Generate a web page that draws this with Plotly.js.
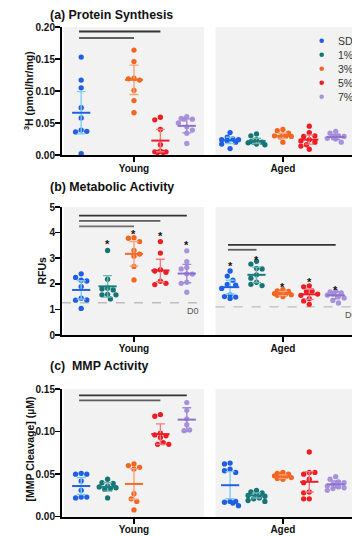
<!DOCTYPE html>
<html>
<head>
<meta charset="utf-8">
<script src="https://cdn.plot.ly/plotly-3.0.1.min.js"></script>
<style>html,body{margin:0;padding:0;background:#fff;}#chart{width:352px;height:536px;}</style>
</head>
<body>
<div id="chart"></div>
<script>
// ---------------- DATA ----------------
const groups = ['SD', '1%', '3%', '5%', '7%'];
const ages = ['Young', 'Aged'];

// (a) Protein Synthesis
const a_young = [
  [0.153, 0.117, 0.105, 0.074, 0.058, 0.039, 0.037, 0.036, 0.002],
  [],
  [0.164, 0.146, 0.120, 0.119, 0.117, 0.101, 0.085, 0.066],
  [0.059, 0.055, 0.040, 0.016, 0.006, 0.005, 0.004, 0.004, 0.005],
  [0.060, 0.057, 0.056, 0.056, 0.050, 0.044, 0.039, 0.034, 0.018]
];
const a_young_mean = [0.066, null, 0.1175, 0.0225, 0.0455];
const a_young_err = [0.033, null, 0.023, 0.0175, 0.011];
const a_aged = [
  [0.035, 0.028, 0.025, 0.024, 0.024, 0.022, 0.020, 0.017, 0.010],
  [0.033, 0.030, 0.024, 0.021, 0.020, 0.020, 0.019, 0.017, 0.016],
  [0.040, 0.038, 0.034, 0.031, 0.030, 0.029, 0.029, 0.028, 0.020],
  [0.045, 0.035, 0.030, 0.029, 0.024, 0.022, 0.020, 0.016, 0.014, 0.009],
  [0.037, 0.034, 0.030, 0.029, 0.029, 0.026, 0.025, 0.020]
];
const a_aged_mean = [0.023, 0.022, 0.030, 0.024, 0.028];
const a_aged_err = [0.005, 0.004, 0.004, 0.007, 0.004];
const a_sig_young = [[0, 3, 0.193], [0, 2, 0.1828]];
const a_sig_aged = [];

// (b) Metabolic Activity
const b_young = [
  [2.39, 2.25, 2.14, 2.11, 1.89, 1.44, 1.37, 1.36, 1.04],
  [3.30, 2.18, 1.83, 1.80, 1.76, 1.59, 1.57, 1.57, 1.41],
  [3.80, 3.78, 3.65, 3.30, 3.16, 3.08, 2.68, 2.15],
  [3.65, 3.20, 2.55, 2.50, 2.45, 2.10, 2.02, 1.97],
  [3.29, 2.87, 2.64, 2.58, 2.39, 2.38, 2.06, 2.02, 1.67]
];
const b_young_mean = [1.76, 1.90, 3.17, 2.52, 2.40];
const b_young_err = [0.36, 0.42, 0.48, 0.44, 0.36];
const b_aged = [
  [2.50, 2.30, 2.14, 1.98, 1.95, 1.82, 1.57, 1.50, 1.48, 1.43],
  [2.88, 2.77, 2.60, 2.58, 2.35, 2.22, 2.06, 1.98, 1.93],
  [1.78, 1.72, 1.70, 1.66, 1.62, 1.60, 1.57, 1.55, 1.50],
  [1.92, 1.88, 1.72, 1.70, 1.60, 1.55, 1.42, 1.33, 1.20],
  [1.72, 1.68, 1.64, 1.60, 1.56, 1.52, 1.45, 1.35, 1.25]
];
const b_aged_mean = [1.87, 2.35, 1.62, 1.59, 1.55];
const b_aged_err = [0.27, 0.30, 0.08, 0.20, 0.14];
const b_star_young = [null, 3.66, 4.05, 3.98, 3.62];
const b_star_aged = [2.81, 3.03, 1.98, 2.18, 1.89];
const b_sig_young = [[0, 4, 4.66], [0, 3, 4.46], [0, 2, 4.24]];
const b_sig_aged = [[0, 4, 3.52], [0, 1, 3.33]];
const b_d0 = [1.26, 1.10];

// (c) MMP Activity
const c_young = [
  [0.051, 0.050, 0.050, 0.042, 0.031, 0.023, 0.023, 0.022],
  [0.044, 0.040, 0.039, 0.036, 0.035, 0.034, 0.033, 0.032, 0.022],
  [0.062, 0.060, 0.058, 0.056, 0.027, 0.021, 0.018, 0.008],
  [0.120, 0.118, 0.098, 0.096, 0.095, 0.093, 0.087, 0.085, 0.085],
  [0.134, 0.125, 0.115, 0.108, 0.102, 0.101]
];
const c_young_mean = [0.036, 0.035, 0.0385, 0.097, 0.114];
const c_young_err = [0.010, 0.005, 0.018, 0.012, 0.014];
const c_aged = [
  [0.063, 0.062, 0.056, 0.054, 0.052, 0.018, 0.018, 0.017, 0.016, 0.013],
  [0.031, 0.029, 0.028, 0.026, 0.025, 0.024, 0.022, 0.021, 0.019, 0.018],
  [0.052, 0.051, 0.050, 0.049, 0.048, 0.047, 0.046, 0.045, 0.044],
  [0.076, 0.052, 0.052, 0.050, 0.044, 0.040, 0.029, 0.028, 0.021, 0.021],
  [0.047, 0.044, 0.041, 0.040, 0.038, 0.036, 0.035, 0.034, 0.033, 0.031]
];
const c_aged_mean = [0.037, 0.025, 0.047, 0.041, 0.038];
const c_aged_err = [0.016, 0.003, 0.002, 0.012, 0.004];
const c_sig_young = [[0, 4, 0.1425], [0, 3, 0.1366]];
const c_sig_aged = [];

// ---------------- STYLE / LAYOUT ----------------
const W = 352, H = 536;
const FONT = 'Liberation Sans, Arial, Helvetica, sans-serif';
const ptColors = ['#1f5ee6', '#157575', '#f4651f', '#ee1d23', '#a891dd'];
const errColors = ['#7ccdf2', '#6fb3b3', '#f7a47c', '#f37b7e', '#a08bd8'];
const meanColors = ['#2063e0', '#1a7d7d', '#f26a28', '#e8202a', '#8c72cc'];
const sigColors = ['#333333', '#5e5e5e', '#707070'];

const xLeftPx = 62, pxPerX = 26.4;
const xRange = [-0.727, -0.727 + (W - xLeftPx) / pxPerX];
const ageBase = [0, 5.64];
const panelEdges = [[-0.65, 4.65], [5.09, 10.6]];

const panels = [
  {title: '(a) Protein Synthesis', titleY: 15, ytitle: '<sup>3</sup>H (pmol/hr/mg)', ytx: 28, yty: 91,
   top: 27, bottom: 155, range: [0, 0.2], dtick: 0.05, fmt: '.2f', xlabShift: -2,
   data: [a_young, a_aged], mean: [a_young_mean, a_aged_mean], err: [a_young_err, a_aged_err],
   sig: [a_sig_young, a_sig_aged], stars: null, d0: null, legend: true},
  {title: '(b) Metabolic Activity', titleY: 187, ytitle: 'RFUs', ytx: 41.5, yty: 271,
   top: 207, bottom: 335, range: [0, 5], dtick: 1, fmt: 'd', xlabShift: -2,
   data: [b_young, b_aged], mean: [b_young_mean, b_aged_mean], err: [b_young_err, b_aged_err],
   sig: [b_sig_young, b_sig_aged], stars: [b_star_young, b_star_aged], d0: b_d0, legend: false},
  {title: '(c)\u00a0\u00a0MMP Activity', titleY: 366, ytitle: '[MMP Cleavage] (µM)', ytx: 29.5, yty: 449,
   top: 389, bottom: 516.7, range: [0, 0.15], dtick: 0.05, fmt: '.2f', xlabShift: -3,
   data: [c_young, c_aged], mean: [c_young_mean, c_aged_mean], err: [c_young_err, c_aged_err],
   sig: [c_sig_young, c_sig_aged], stars: null, d0: null, legend: false}
];

// simple beeswarm: horizontal offsets in px; overlap allowed beyond maxOff
function swarm(vals, pxPerY, d, s, maxOff) {
  const order = vals.map((v, i) => i).sort((p, q) => vals[q] - vals[p]);
  const placed = [];
  const off = new Array(vals.length).fill(0);
  const cands = [0];
  for (let k = 1; k * s / 2 <= maxOff; k++) { cands.push(k * s / 2, -k * s / 2); }
  order.forEach((i, n) => {
    const y = vals[i] * pxPerY;
    let best = null, bestD = -1;
    for (const c0 of cands) {
      const c = (n % 2 === 1) ? -c0 : c0;
      const md = placed.length ? Math.min(...placed.map(p => Math.hypot(p[0] - c, p[1] - y))) : 1e9;
      if (md >= d) { best = c; bestD = md; break; }
      if (md > bestD) { bestD = md; best = c; }
    }
    off[i] = best; placed.push([best, y]);
  });
  return off;
}

const traces = [];
const shapes = [];
const annotations = [];
const layout = {
  width: W, height: H,
  margin: {l: 0, r: 0, t: 0, b: 0},
  paper_bgcolor: '#ffffff', plot_bgcolor: 'rgba(0,0,0,0)',
  showlegend: false,
  font: {family: FONT, color: '#111'}
};

panels.forEach((P, k) => {
  const sfx = k === 0 ? '' : String(k + 1);
  const xa = 'x' + sfx, ya = 'y' + sfx;
  const pxPerY = (P.bottom - P.top) / (P.range[1] - P.range[0]);
  layout['xaxis' + sfx] = {
    domain: [xLeftPx / W, 1], range: xRange, anchor: ya,
    tickmode: 'array', tickvals: ageBase.map(b => b + 2), ticktext: ages,
    showline: true, linecolor: '#000', linewidth: 2,
    ticks: 'outside', ticklen: 5, tickwidth: 2, tickcolor: '#000', ticklabelstandoff: P.xlabShift,
    tickfont: {family: FONT, size: 10, color: '#111', weight: 'bold'},
    showgrid: false, zeroline: false, fixedrange: true
  };
  layout['yaxis' + sfx] = {
    domain: [(H - P.bottom) / H, (H - P.top) / H], range: P.range, anchor: xa,
    dtick: P.dtick, tick0: 0, tickformat: P.fmt,
    showline: true, linecolor: '#000', linewidth: 2,
    ticks: 'outside', ticklen: 5, tickwidth: 1.5, tickcolor: '#000', ticklabelstandoff: -2,
    tickfont: {family: FONT, size: 10, color: '#111', weight: 'bold'},
    showgrid: false, zeroline: false, fixedrange: true
  };
  // gray panels
  panelEdges.forEach(e => shapes.push({type: 'rect', xref: xa, yref: ya + ' domain', x0: e[0], x1: e[1], y0: 0, y1: 1,
    fillcolor: '#f2f2f2', line: {width: 0}, layer: 'below'}));
  // D0 dashed lines
  if (P.d0) {
    const spans = [[xRange[0], panelEdges[0][1]], [panelEdges[1][0], xRange[1]]];
    P.d0.forEach((v, a) => {
      shapes.push({type: 'line', xref: xa, yref: ya, x0: spans[a][0], x1: spans[a][1], y0: v, y1: v,
        line: {color: '#bdbdbd', width: 1.3, dash: 'dash'}, layer: 'below'});
    });
    annotations.push({xref: xa, yref: ya, x: panelEdges[0][1] - 0.1, y: P.d0[0], xanchor: 'right', yanchor: 'top', yshift: -1,
      text: 'D0', showarrow: false, font: {family: FONT, size: 9, color: '#555'}});
    annotations.push({xref: xa, yref: ya, x: 9.9, y: P.d0[1], xanchor: 'left', yanchor: 'top', yshift: -1,
      text: 'D0', showarrow: false, font: {family: FONT, size: 9, color: '#555'}});
  }
  // points + mean/err
  [0, 1].forEach(a => {
    const base = ageBase[a];
    P.data[a].forEach((vals, g) => {
      if (!vals.length) return;
      const off = swarm(vals, pxPerY, 5.2, 5.6, 10);
      traces.push({type: 'scatter', mode: 'markers', xaxis: xa, yaxis: ya,
        x: vals.map((v, i) => base + g + off[i] / pxPerX), y: vals,
        marker: {size: 5.3, color: ptColors[g], line: {width: 0}},
        name: groups[g], hoverinfo: 'skip', cliponaxis: false});
    });
    P.mean[a].forEach((m, g) => {
      if (m === null) return;
      traces.push({type: 'scatter', mode: 'markers', xaxis: xa, yaxis: ya,
        x: [base + g], y: [m],
        error_y: {type: 'data', array: [P.err[a][g]], color: errColors[g], thickness: 1.4, width: 4.5},
        marker: {symbol: 'line-ew', size: 13, color: meanColors[g], line: {width: 2, color: meanColors[g]}},
        hoverinfo: 'skip', cliponaxis: false});
    });
    // significance bars
    P.sig[a].forEach((s, j) => {
      shapes.push({type: 'line', xref: xa, yref: ya, x0: base + s[0] - 0.08, x1: base + s[1], y0: s[2], y1: s[2],
        line: {color: sigColors[j] || '#707070', width: 1.8}});
    });
    // asterisks
    if (P.stars) {
      P.stars[a].forEach((v, g) => {
        if (v === null) return;
        annotations.push({xref: xa, yref: ya, x: base + g, y: v, text: '*', showarrow: false,
          xanchor: 'center', yanchor: 'middle', yshift: -3,
          font: {family: FONT, size: 11, color: '#111', weight: 'bold'}});
      });
    }
  });
  // panel title
  annotations.push({xref: 'paper', yref: 'paper', x: 48 / W, y: 1 - P.titleY / H, xanchor: 'left', yanchor: 'middle',
    text: P.title, showarrow: false, font: {family: FONT, size: 12.4, color: '#111', weight: 'bold'}});
  // y title
  annotations.push({xref: 'paper', yref: 'paper', x: P.ytx / W, y: 1 - P.yty / H, xanchor: 'center', yanchor: 'middle',
    text: P.ytitle, textangle: -90, showarrow: false, font: {family: FONT, size: 10.5, color: '#111', weight: 'bold'}});
  // legend
  if (P.legend) {
    const lx = 321.7, lt = 40.7, step = 14;
    groups.forEach((gname, g) => {
      const cy = lt + g * step;
      shapes.push({type: 'circle', xref: 'paper', yref: 'paper',
        x0: (lx - 2.3) / W, x1: (lx + 2.3) / W, y0: 1 - (cy + 2.3) / H, y1: 1 - (cy - 2.3) / H,
        fillcolor: ptColors[g], line: {width: 0}});
      annotations.push({xref: 'paper', yref: 'paper', x: 335.5 / W, y: 1 - cy / H, xanchor: 'left', yanchor: 'middle',
        text: gname, showarrow: false, font: {family: FONT, size: 10.5, color: '#333'}});
    });
  }
});

layout.shapes = shapes;
layout.annotations = annotations;
Plotly.newPlot('chart', traces, layout, {staticPlot: true, displayModeBar: false});
</script>
</body>
</html>
